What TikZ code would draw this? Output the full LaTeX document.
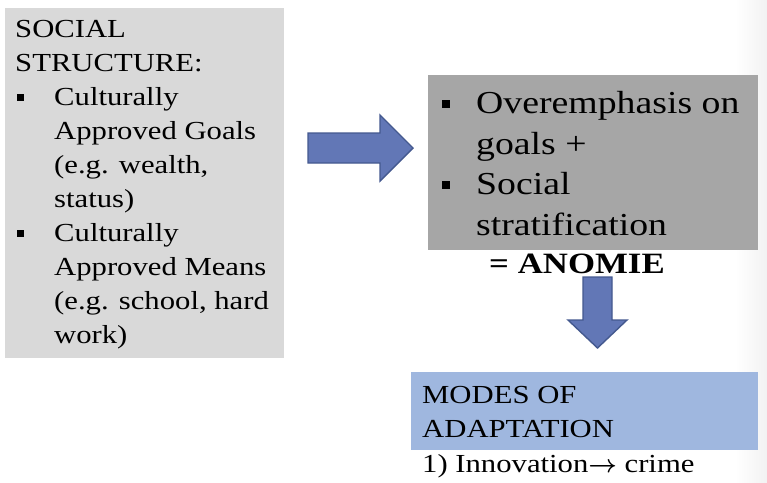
\documentclass[tikz,border=0pt]{standalone}
\usepackage{fontspec}
\setmainfont[FakeStretch=1.18]{Liberation Serif}
\definecolor{boxlight}{HTML}{D9D9D9}
\definecolor{boxdark}{HTML}{A6A6A6}
\definecolor{boxblue}{HTML}{9FB7DF}
\definecolor{arrowfill}{HTML}{6277B6}
\definecolor{arrowline}{HTML}{44598F}
\definecolor{edgeshade}{HTML}{F2F2F2}
\newcommand{\sqbul}{\rule[0.16em]{0.25em}{0.25em}}
\begin{document}
\begin{tikzpicture}[x=1pt,y=-1pt,
  small/.style={anchor=base west,inner sep=0pt,font=\fontsize{26}{30}\selectfont},
  large/.style={anchor=base west,inner sep=0pt,font=\fontsize{32}{38}\selectfont},
  blockarrow/.style={fill=arrowfill,draw=arrowline,line width=1.4pt,line join=miter}]
\useasboundingbox (0,0) rectangle (767,482);
\fill[white] (0,0) rectangle (767,482);
% soft shading along the right edge
\shade[left color=white,right color=edgeshade] (735,0) rectangle (767,482);

% panels
\fill[boxlight] (5,8) rectangle (284,358);
\fill[boxdark] (428,75) rectangle (758,250);
\fill[boxblue] (411,372) rectangle (758,450);

% social structure
\node[small] (s1) at (15,37) {SOCIAL};
\node[small] (s2) at (15,71) {STRUCTURE:};
\node[small] (s3) at (17,105) {\makebox[37pt][l]{\sqbul}Culturally};
\node[small] (s4) at (54,139) {Approved Goals};
\node[small] (s5) at (54,173) {(e.g. wealth,};
\node[small] (s6) at (54,207) {status)};
\node[small] (s7) at (17,241) {\makebox[37pt][l]{\sqbul}Culturally};
\node[small] (s8) at (54,275) {Approved Means};
\node[small] (s9) at (54,309) {(e.g. school, hard};
\node[small] (s10) at (54,343) {work)};

% right arrow
\draw[blockarrow] (308,133) -- (380,133) -- (380,115) -- (413,148)
  -- (380,181) -- (380,163) -- (308,163) -- cycle;

% strain
\node[large] (r1) at (442,113) {\makebox[34pt][l]{\sqbul}Overemphasis on};
\node[large] (r2) at (476,154) {goals +};
\node[large] (r3) at (442,194) {\makebox[34pt][l]{\sqbul}Social};
\node[large] (r4) at (476,235) {stratification};
\node[anchor=base west,inner sep=0pt,font=\fontsize{29.5}{36}\selectfont\bfseries] (an) at (489,273) {= ANOMIE};

% down arrow
\draw[blockarrow] (583,277) -- (612,277) -- (612,320) -- (627,320) -- (597.5,348)
  -- (568,320) -- (583,320) -- cycle;

% modes of adaptation
\node[small] (m1) at (422,403) {MODES OF};
\node[small] (m2) at (422,437) {ADAPTATION};
\node[small] (m3) at (422,472) {1) Innovation{\boldmath$\rightarrow$} crime};
\end{tikzpicture}
\end{document}
